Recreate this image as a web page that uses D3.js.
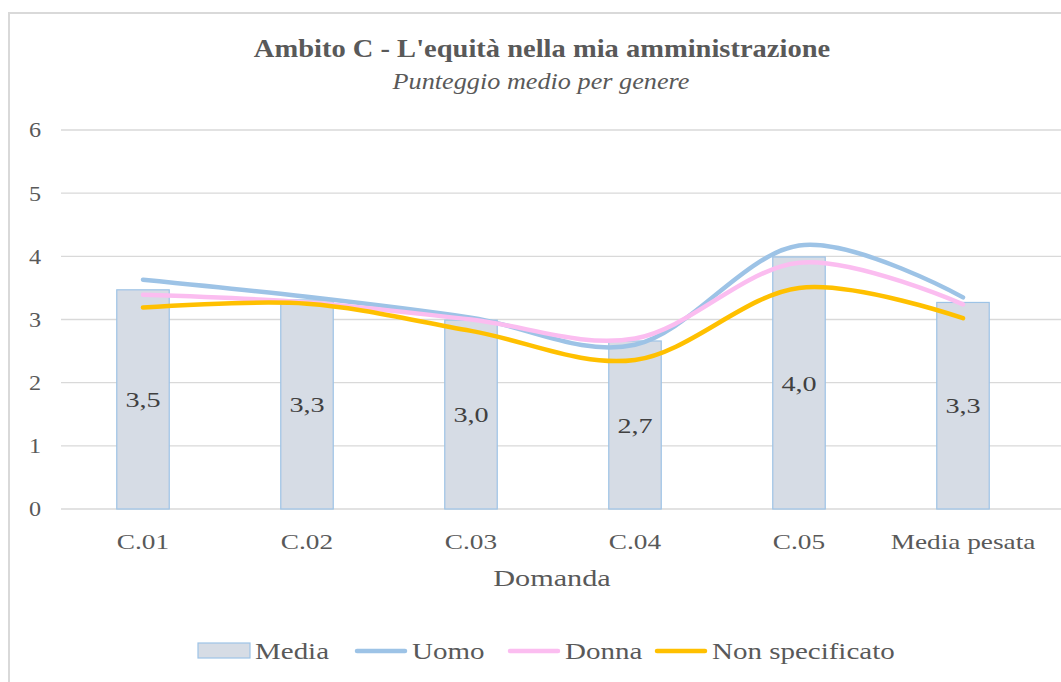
<!DOCTYPE html>
<html>
<head>
<meta charset="utf-8">
<script src="https://cdn.jsdelivr.net/npm/d3@7"></script>
<style>
  body { margin: 0; background: #fff; }
  svg text { font-family: "Liberation Serif", "DejaVu Serif", serif; fill: #595959; }
</style>
</head>
<body>
<div class="chart"></div>
<script>
// data
const categories = ["C.01", "C.02", "C.03", "C.04", "C.05", "Media pesata"];
const media = [3.47, 3.31, 2.99, 2.66, 3.99, 3.27];
const uomo = [3.63, 3.36, 3.03, 2.6, 4.17, 3.35];
const donna = [3.39, 3.27, 3.0, 2.7, 3.9, 3.24];
const nonSpecificato = [3.19, 3.25, 2.82, 2.36, 3.5, 3.02];
const yTicks = [0, 1, 2, 3, 4, 5, 6];

const width = 1061, height = 682;
const margin = { left: 61, right: 16, top: 130, bottom: 173 };

// the original font (Palatino) is wider than Liberation Serif, so stretch the text
function widen(sel, k) {
    sel.each(function () {
        const w = this.getComputedTextLength();
        d3.select(this)
            .attr("textLength", w * k)
            .attr("lengthAdjust", "spacingAndGlyphs");
    });
}

const svg = d3.select(".chart")
    .append("svg")
    .attr("width", width)
    .attr("height", height);

// outer frame
svg.append("path")
    .attr("d", `M9,${height} V13 H${width}`)
    .style("fill", "none")
    .style("stroke", "#d9d9d9")
    .style("stroke-width", 2);

const x = d3.scaleBand()
    .domain(categories)
    .range([margin.left, width - margin.right])
    .paddingInner(0.68)
    .paddingOuter(0.34);

const y = d3.scaleLinear()
    .domain([0, 6])
    .range([height - margin.bottom, margin.top]);

// gridlines
svg.append("g")
    .selectAll("line")
    .data(yTicks)
    .enter()
    .append("line")
    .attr("x1", margin.left)
    .attr("x2", width)
    .attr("y1", d => y(d))
    .attr("y2", d => y(d))
    .style("stroke", "#d9d9d9")
    .style("stroke-width", 1.3);

// y labels
svg.append("g")
    .selectAll("text")
    .data(yTicks)
    .enter()
    .append("text")
    .attr("x", 35)
    .attr("y", d => y(d))
    .attr("dy", "0.35em")
    .style("text-anchor", "middle")
    .style("font-size", "21px")
    .text(d => d)
    .call(widen, 1.15);

// bars
svg.append("g")
    .selectAll("rect")
    .data(media)
    .enter()
    .append("rect")
    .attr("x", (d, i) => x(categories[i]))
    .attr("y", d => y(d))
    .attr("width", x.bandwidth())
    .attr("height", d => y(0) - y(d))
    .style("fill", "#d6dce5")
    .style("stroke", "#9dc3e6")
    .style("stroke-width", 1.2);

// bar labels
svg.append("g")
    .selectAll("text")
    .data(media)
    .enter()
    .append("text")
    .attr("x", (d, i) => x(categories[i]) + x.bandwidth() / 2)
    .attr("y", d => (y(d) + y(0)) / 2)
    .attr("dy", "0.35em")
    .style("text-anchor", "middle")
    .style("font-size", "22px")
    .style("fill", "#404040")
    .text(d => d3.format(".1f")(d).replace(".", ","))
    .call(widen, 1.28);

// smooth lines
const line = d3.line()
    .x((d, i) => x(categories[i]) + x.bandwidth() / 2)
    .y(d => y(d))
    .curve(d3.curveCatmullRom.alpha(0));

const series = [
    { name: "Uomo", values: uomo, color: "#9dc3e6" },
    { name: "Donna", values: donna, color: "#fbbdf0" },
    { name: "Non specificato", values: nonSpecificato, color: "#ffc000" }
];

series.forEach(s => {
    svg.append("path")
        .datum(s.values)
        .attr("d", line)
        .style("fill", "none")
        .style("stroke", s.color)
        .style("stroke-width", 4.5)
        .style("stroke-linecap", "round");
});

// x labels
svg.append("g")
    .selectAll("text")
    .data(categories)
    .enter()
    .append("text")
    .attr("x", d => x(d) + x.bandwidth() / 2)
    .attr("y", 541)
    .attr("dy", "0.35em")
    .style("text-anchor", "middle")
    .style("font-size", "22px")
    .text(d => d)
    .call(widen, 1.24);

svg.append("text")
    .attr("x", 552)
    .attr("y", 578)
    .attr("dy", "0.35em")
    .style("text-anchor", "middle")
    .style("font-size", "24px")
    .text("Domanda")
    .call(widen, 1.26);

// titles
svg.append("text")
    .attr("x", 542)
    .attr("y", 48)
    .attr("dy", "0.35em")
    .style("text-anchor", "middle")
    .style("font-size", "25px")
    .style("font-weight", "bold")
    .text("Ambito C - L'equità nella mia amministrazione")
    .call(widen, 1.14);

svg.append("text")
    .attr("x", 541)
    .attr("y", 81)
    .attr("dy", "0.35em")
    .style("text-anchor", "middle")
    .style("font-size", "23px")
    .style("font-style", "italic")
    .text("Punteggio medio per genere")
    .call(widen, 1.14);

// legend
const legend = svg.append("g");
const legendItems = [
    { name: "Media", type: "bar", x: 198 },
    { name: "Uomo", type: "line", color: "#9dc3e6", x: 355 },
    { name: "Donna", type: "line", color: "#fbbdf0", x: 508 },
    { name: "Non specificato", type: "line", color: "#ffc000", x: 655 }
];
legendItems.forEach(item => {
    if (item.type === "bar") {
        legend.append("rect")
            .attr("x", item.x)
            .attr("y", 643)
            .attr("width", 52)
            .attr("height", 15)
            .style("fill", "#d6dce5")
            .style("stroke", "#9dc3e6")
            .style("stroke-width", 1.2);
    } else {
        legend.append("line")
            .attr("x1", item.x + 2)
            .attr("x2", item.x + 50)
            .attr("y1", 651)
            .attr("y2", 651)
            .style("stroke", item.color)
            .style("stroke-width", 4.5)
            .style("stroke-linecap", "round");
    }
    legend.append("text")
        .attr("x", item.x + 57)
        .attr("y", 651)
        .attr("dy", "0.35em")
        .style("font-size", "23px")
        .text(item.name)
        .call(widen, 1.26);
});
</script>
</body>
</html>
